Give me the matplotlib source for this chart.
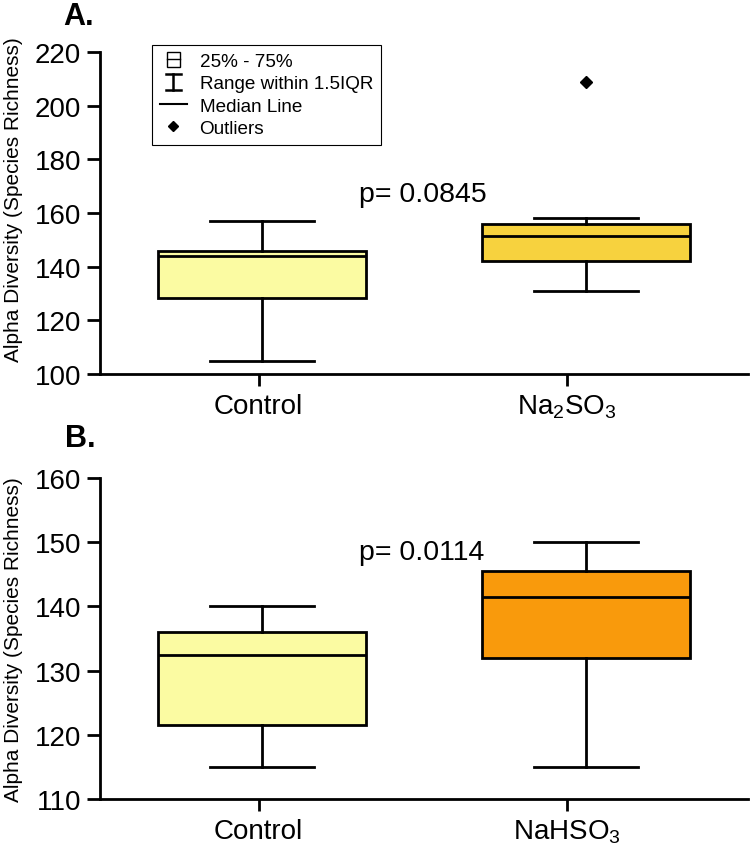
"""Alpha diversity box plots: Control vs Na2SO3 (A) and Control vs NaHSO3 (B)."""
import matplotlib; matplotlib.use("Agg")
import matplotlib.pyplot as plt
from matplotlib.legend_handler import HandlerBase
from matplotlib.patches import Rectangle
from matplotlib.lines import Line2D

plt.rcParams.update({"font.family": "Liberation Sans", "mathtext.fontset": "custom",
    "mathtext.rm": "Liberation Sans", "mathtext.default": "regular",
    "axes.linewidth": 2.0, "xtick.major.width": 2.0, "ytick.major.width": 2.0})

# panel A
A_LABELS = ["Control", "Na$_2$SO$_3$"]
A_Q1 = [128.5, 142.0]
A_MED = [144.0, 151.5]
A_Q3 = [146.0, 156.0]
A_LO = [105.0, 131.0]
A_HI = [157.0, 158.0]
A_FLIERS = [[], [209.0]]
A_P = "p= 0.0845"
# panel B
B_LABELS = ["Control", "NaHSO$_3$"]
B_Q1 = [121.5, 132.0]
B_MED = [132.5, 141.5]
B_Q3 = [136.0, 145.5]
B_LO = [115.0, 115.0]
B_HI = [140.0, 150.0]
B_FLIERS = [[], []]
B_P = "p= 0.0114"

COL_CTRL = "#FBFBA2"
COL_A = "#F7D23E"
COL_B = "#F99A0C"
POS = [0.5, 1.5]
TICKS = [0.49, 1.44]

class BoxKey(HandlerBase):
    def create_artists(self, legend, orig, xd, yd, w, h, fs, trans):
        bw = 0.45 * w; cx = w / 2 - xd
        r = Rectangle((cx - bw / 2, -yd - 0.1 * h), bw, 1.2 * h, fc="white", ec="black", lw=1, transform=trans)
        l = Line2D([cx - bw / 2, cx + bw / 2], [h / 2 - yd] * 2, color="black", lw=1, transform=trans)
        return [r, l]

class IKey(HandlerBase):
    def create_artists(self, legend, orig, xd, yd, w, h, fs, trans):
        cx = w / 2 - xd; cw = 0.29 * w
        y0, y1 = -yd - 0.1 * h, h * 1.1 - yd
        return [Line2D([cx, cx], [y0, y1], color="black", lw=1.8, transform=trans),
                Line2D([cx - cw, cx + cw], [y0, y0], color="black", lw=1.8, transform=trans),
                Line2D([cx - cw, cx + cw], [y1, y1], color="black", lw=1.8, transform=trans)]

class MedKey(HandlerBase):
    def create_artists(self, legend, orig, xd, yd, w, h, fs, trans):
        return [Line2D([-xd, w - xd], [h / 2 - yd] * 2, color="black", lw=1.5, transform=trans)]

class OutKey(HandlerBase):
    def create_artists(self, legend, orig, xd, yd, w, h, fs, trans):
        return [Line2D([w / 2 - xd], [h / 2 - yd], marker="D", ms=5.5, color="black", ls="none", transform=trans)]

def panel(ax, labels, q1, med, q3, lo, hi, fliers, colors, ylim, yticks, ptext, pxy):
    stats = [dict(q1=a, med=b, q3=c, whislo=d, whishi=e, fliers=f)
             for a, b, c, d, e, f in zip(q1, med, q3, lo, hi, fliers)]
    bp = ax.bxp(stats, positions=POS, widths=0.64, capwidths=0.32, patch_artist=True,
                boxprops=dict(lw=2.0, ec="black"), whiskerprops=dict(lw=2.0),
                capprops=dict(lw=2.0), medianprops=dict(color="black", lw=2.0),
                flierprops=dict(marker="D", ms=6.5, mfc="black", mec="black"))
    for p, c in zip(bp["boxes"], colors):
        p.set_facecolor(c)
    ax.set_xlim(0, 2); ax.set_ylim(*ylim)
    ax.set_yticks(yticks)
    ax.set_xticks(TICKS, labels)
    for s in ["top", "right"]:
        ax.spines[s].set_visible(False)
    ax.tick_params(axis="y", length=9.5, labelsize=20, pad=4)
    ax.tick_params(axis="x", length=8.5, labelsize=20, pad=5)
    ax.set_ylabel("Alpha Diversity (Species Richness)", fontsize=15)
    ax.text(pxy[0], pxy[1], ptext, fontsize=20.5)

fig = plt.figure(figsize=(7.5, 8.54), dpi=100)
axA = fig.add_axes([0.1333, 0.5609, 0.864, 0.377])
axB = fig.add_axes([0.1333, 0.0632, 0.864, 0.3759])
panel(axA, A_LABELS, A_Q1, A_MED, A_Q3, A_LO, A_HI, A_FLIERS, [COL_CTRL, COL_A],
      (100, 220), range(100, 221, 20), A_P, (0.80, 164.5))
panel(axB, B_LABELS, B_Q1, B_MED, B_Q3, B_LO, B_HI, B_FLIERS, [COL_CTRL, COL_B],
      (110, 160), range(110, 161, 10), B_P, (0.80, 147.4))
axA.yaxis.set_label_coords(-0.119, 0.545)
axB.yaxis.set_label_coords(-0.119, 0.5)

keys = [object(), object(), object(), object()]
leg = axA.legend(keys, ["25% - 75%", "Range within 1.5IQR", "Median Line", "Outliers"],
                 handler_map={keys[0]: BoxKey(), keys[1]: IKey(), keys[2]: MedKey(), keys[3]: OutKey()},
                 loc="upper left", bbox_to_anchor=(0.08, 1.022), borderaxespad=0, fontsize=13.6,
                 handlelength=1.45, handletextpad=0.66, labelspacing=0.27, borderpad=0.42,
                 fancybox=False, framealpha=1, edgecolor="black")
leg.get_frame().set_linewidth(0.8)

fig.text(63 / 750, 1 - 25 / 854, "A.", fontsize=22, fontweight="bold")
fig.text(65 / 750, 1 - 447 / 854, "B.", fontsize=22, fontweight="bold")
fig.savefig("out.png", dpi=100)
